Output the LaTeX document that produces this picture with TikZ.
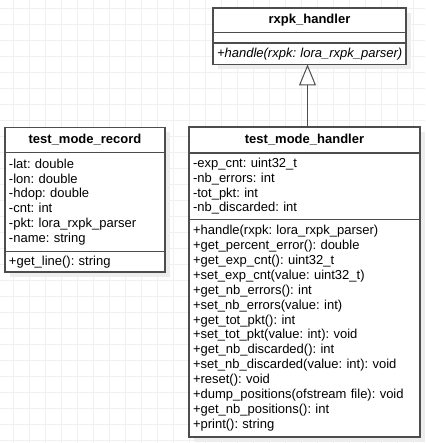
\documentclass[tikz,border=0pt]{standalone}
\usepackage{fontspec}
\setmainfont{Liberation Sans}
\usetikzlibrary{
    arrows.meta,
    positioning,
    shadows
}
\definecolor{umlline}{HTML}{4D4D4D}
\definecolor{gridgray}{HTML}{F0F0F0}
\definecolor{shadowgray}{HTML}{EDEDED}
\frenchspacing

\begin{document}
\begin{tikzpicture}[
        x=1pt, y=-1pt,
        every node/.style={
            font=\fontsize{13}{14.9}\selectfont,
            inner ysep=0pt,
            outer sep=0pt
        },
        umlpart/.style 2 args={
            draw=umlline,
            fill=white,
            line width=1.1pt,
            inner xsep=4pt,
            text width=#1,
            minimum height=#2,
            align=left,
            drop shadow={shadow xshift=5pt, shadow yshift=-5pt, fill=shadowgray, opacity=1}
        },
        umltitle/.style 2 args={
            umlpart={#1}{#2},
            align=center,
            font=\fontsize{13}{14.9}\selectfont\bfseries
        },
        gridline/.style={draw=gridgray, line width=0.8pt}
    ]

    \useasboundingbox (0,0) rectangle (425,443);
    \foreach \gx in {13,29,...,413}
        \draw[gridline] (\gx,0) -- (\gx,443);
    \foreach \gy in {8,24,...,440}
        \draw[gridline] (0,\gy) -- (425,\gy);

    % rxpk_handler
    \node[umltitle={185pt}{24.5pt}, anchor=north west] (rxpk) at (213,8) {rxpk\_handler};
    \node[umlpart={185pt}{10.5pt}, below=0pt of rxpk] (rxpk-attr) {};
    \node[umlpart={185pt}{21.5pt}, below=0pt of rxpk-attr] (rxpk-meth) {\mbox{\itshape +handle(rxpk: lora\_rxpk\_parser)}};

    % test_mode_record
    \node[umltitle={152pt}{25pt}, anchor=north west] (rec) at (5,127.5) {test\_mode\_record};
    \node[umlpart={152pt}{99pt}, below=0pt of rec] (rec-attr) {-lat: double\\
        -lon: double\\
        -hdop: double\\
        -cnt: int\\
        -pkt: lora\_rxpk\_parser\\
        -name: string};
    \node[umlpart={152pt}{20.5pt}, below=0pt of rec-attr] (rec-meth) {+get\_line(): string};

    % test_mode_handler
    \node[umltitle={223pt}{26pt}, anchor=north west] (hdl) at (189,127) {test\_mode\_handler};
    \node[umlpart={223pt}{66.3pt}, below=0pt of hdl] (hdl-attr) {-exp\_cnt: uint32\_t\\
        -nb\_errors: int\\
        -tot\_pkt: int\\
        -nb\_discarded: int};
    \node[umlpart={223pt}{217.7pt}, below=0pt of hdl-attr] (hdl-meth) {+handle(rxpk: lora\_rxpk\_parser)\\
        +get\_percent\_error(): double\\
        +get\_exp\_cnt(): uint32\_t\\
        +set\_exp\_cnt(value: uint32\_t)\\
        +get\_nb\_errors(): int\\
        +set\_nb\_errors(value: int)\\
        +get\_tot\_pkt(): int\\
        +set\_tot\_pkt(value: int): void\\
        +get\_nb\_discarded(): int\\
        +set\_nb\_discarded(value: int): void\\
        +reset(): void\\
        +dump\_positions(ofstream file): void\\
        +get\_nb\_positions(): int\\
        +print(): string};

    \draw[umlline, line width=1pt, -{Triangle[open, length=21pt, width=17pt]}]
        ([xshift=-2pt]rxpk-meth.south |- hdl.north) -- ([xshift=-2pt]rxpk-meth.south);

\end{tikzpicture}
\end{document}
